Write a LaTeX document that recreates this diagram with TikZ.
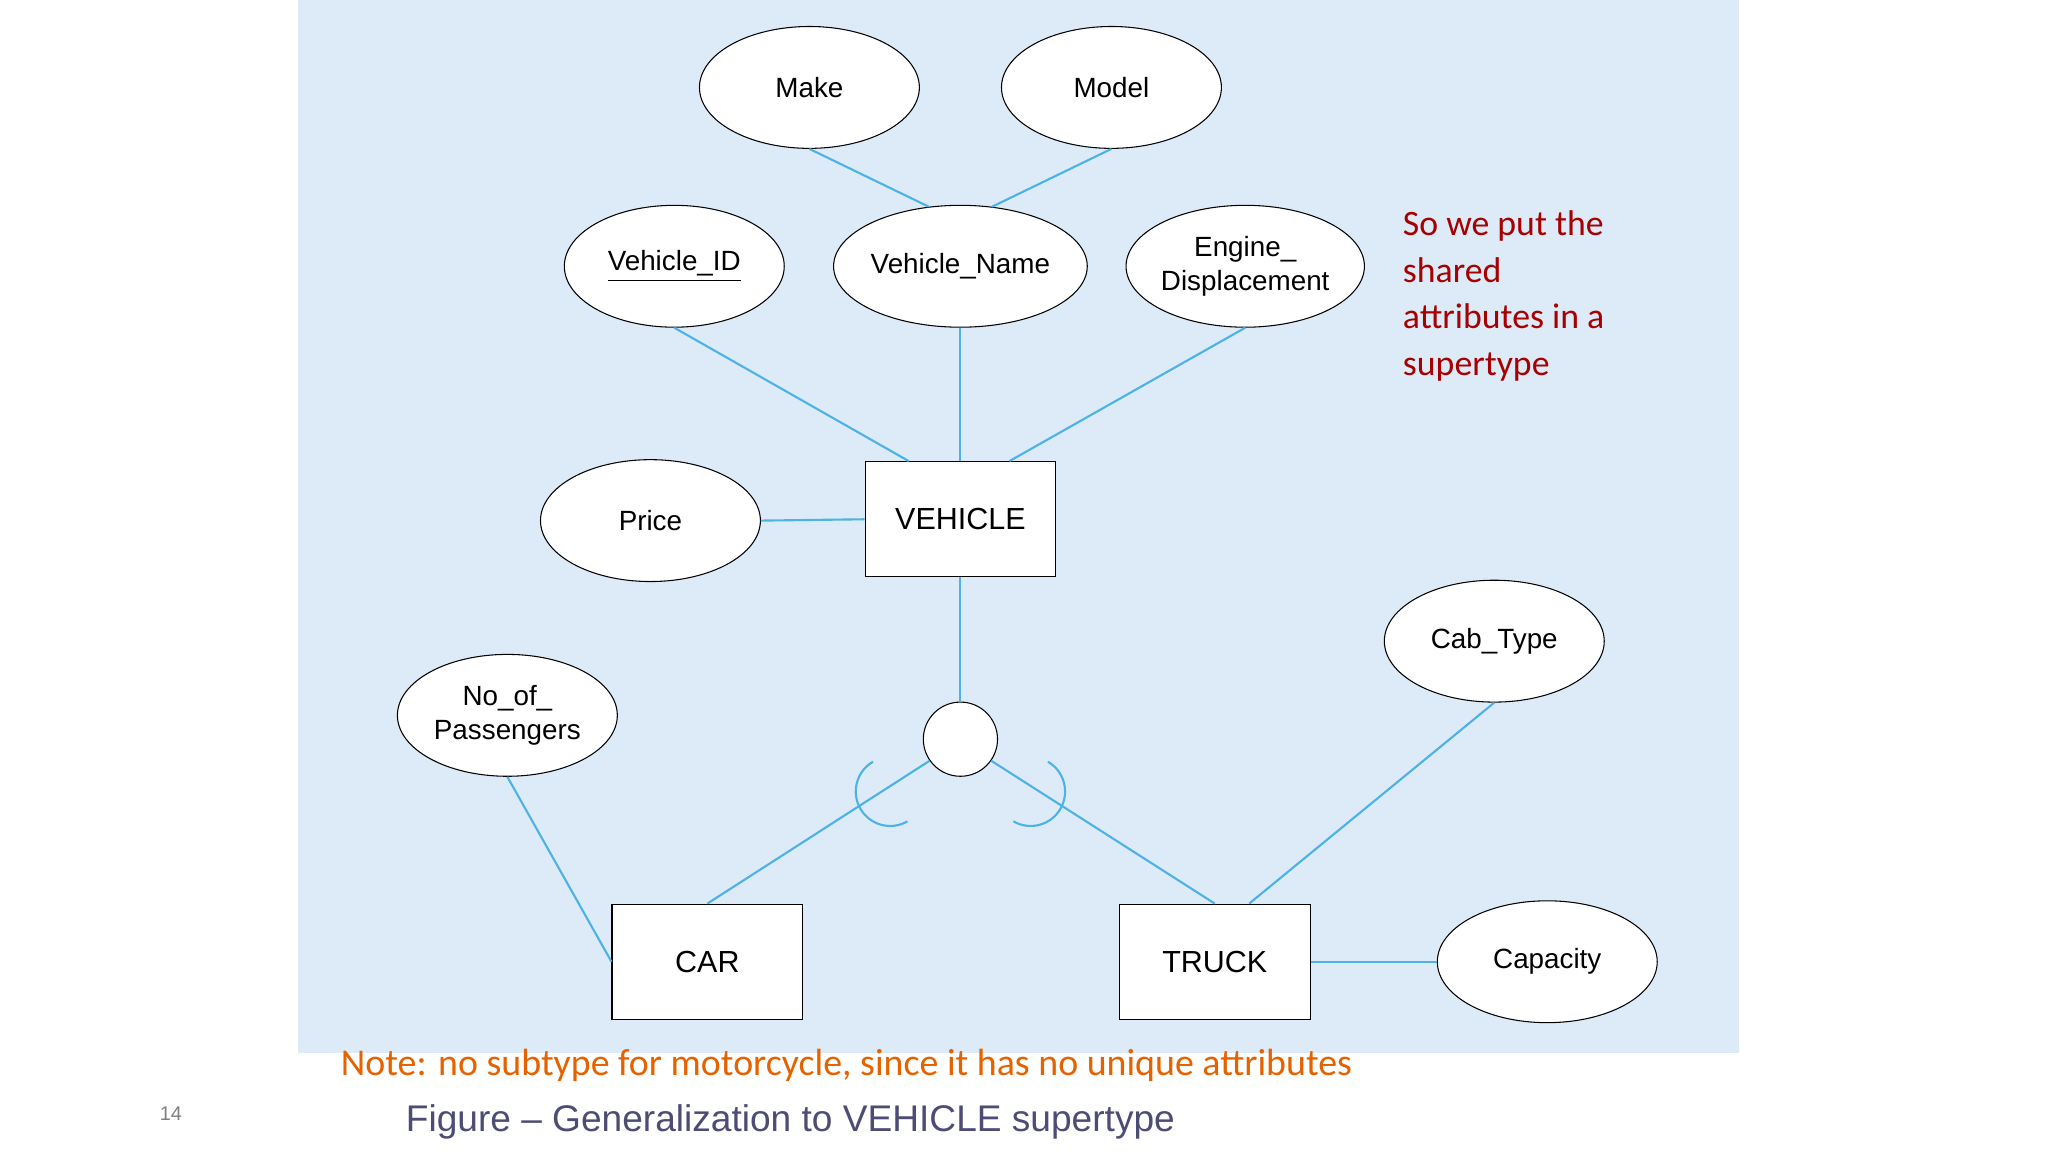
\documentclass[tikz,border=0pt]{standalone}
\usepackage{fontspec}
\setmainfont{Liberation Sans}
\newfontfamily\carlitofont{Carlito}
\usetikzlibrary{shapes.geometric}
\definecolor{bg}{HTML}{DDEBF8}
\definecolor{ln}{HTML}{4DB2E6}
\begin{document}
\begin{tikzpicture}[x=0.5pt,y=-0.5pt,
 attr/.style={draw=black,fill=white,ellipse,minimum width=83pt,minimum height=46pt,inner sep=0pt,align=center,font=\fontsize{10.5}{13}\selectfont},
 ent/.style={draw=black,fill=white,rectangle,minimum width=72pt,minimum height=43.5pt,font=\fontsize{11.5}{14}\selectfont},
 con/.style={draw=ln,line width=0.8pt}]
\useasboundingbox (0,0) rectangle (1546,870);
\fill[bg] (225,0) rectangle (1313,795);
\node[attr] (make) at (611,66) {Make};
\node[attr] (model) at (839,66) {Model};
\node[attr] (vid) at (509,201) {\underline{Vehicle\_ID}};
\node[attr] (vname) at (725,201) {Vehicle\_Name};
\node[attr] (eng) at (940,201) {Engine\_\\Displacement};
\node[attr] (price) at (491,393) {Price};
\node[attr] (cab) at (1128,484) {Cab\_Type};
\node[attr] (nop) at (383,540) {No\_of\_\\Passengers};
\node[attr] (cap) at (1168,726) {Capacity};
\node[ent] (veh) at (725,392) {VEHICLE};
\node[ent] (car) at (534,726) {CAR};
\node[ent] (truck) at (917,726) {TRUCK};
\node[draw=black,fill=white,circle,minimum size=28pt,inner sep=0pt] (circ) at (725,558) {};
\draw[con] (make.south) -- (vname.118);
\draw[con] (model.south) -- (vname.62);
\draw[con] (vid.south) -- ([xshift=-19.5pt]veh.north);
\draw[con] (vname.south) -- (veh.north);
\draw[con] (eng.south) -- ([xshift=18.5pt]veh.north);
\draw[con] (price.east) -- (veh.west);
\draw[con] (veh.south) -- (circ.north);
\draw[con] (circ.215) -- (car.north);
\draw[con] (circ.325) -- (truck.north);
\draw[con] (cab.south) -- ([xshift=13pt]truck.north);
\draw[con] (cap.west) -- (truck.east);
\draw[con] (nop.south) -- (car.west);
\draw[con] (659,575) arc[start angle=240,end angle=60,radius=26];
\draw[con] (791,575) arc[start angle=300,end angle=480,radius=26];
\node[anchor=north west,align=left,text=red!65!black,font=\carlitofont\fontsize{13.5}{17.6}\selectfont] (txt) at (1052,152) {So we put the\\shared\\attributes in a\\supertype};
\node[anchor=west,text=orange!85!red!90!black,font=\carlitofont\fontsize{14.3}{16}\selectfont,inner sep=0] (note) at (257,804) {Note: no subtype for motorcycle, since it has no unique attributes};
\node[anchor=west,text=black!60!blue!40!gray,font=\fontsize{14}{16}\selectfont,inner sep=0] (fig) at (306,847) {Figure -- Generalization to VEHICLE supertype};
\node[text=gray,font=\fontsize{7.5}{9}\selectfont] (pg) at (129,841) {14};
\end{tikzpicture}
\end{document}
